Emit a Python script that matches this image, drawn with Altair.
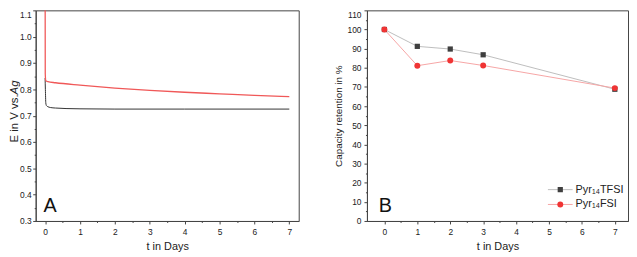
import altair as alt
import pandas as pd

# ---------------- data ----------------
series = ["Pyr\u2081\u2084TFSI", "Pyr\u2081\u2084FSI"]

# Panel A: potential vs time (days)
tA_tfsi = [0, 0.008, 0.02, 0.04, 0.08, 0.15, 0.3, 0.6, 1, 2, 4, 7]
EA_tfsi = [0.843, 0.80, 0.748, 0.738, 0.734, 0.731, 0.729, 0.727, 0.726, 0.725, 0.725, 0.725]
tA_fsi = [0, 0.004, 0.02, 0.08, 0.3, 1, 2, 3, 4, 5, 6, 7]
EA_fsi = [1.30, 0.86, 0.833, 0.829, 0.825, 0.816, 0.805, 0.796, 0.789, 0.783, 0.777, 0.772]

# Panel B: capacity retention
days_B = [0, 1, 2, 3, 7]
cap_tfsi = [100, 91.2, 89.8, 86.8, 68.8]
cap_fsi = [100, 81.1, 83.8, 81.2, 69.4]

# ticks
x_ticks = [i * 0.5 for i in range(15)]
yA_ticks = [round(0.3 + 0.05 * i, 2) for i in range(17)]
yB_ticks = [5 * i for i in range(23)]

panel_labels = ["A", "B"]
yA_title = ["E in V vs.\u00a0", "Ag"]
x_title = "t in Days"
yB_title = "Capacity retention in %"

FONT = "Liberation Sans"
WA, WB, H = 266, 264, 213


def x_axis():
    return alt.Axis(
        values=x_ticks, title=x_title,
        labelExpr="datum.value % 1 === 0 ? format(datum.value, 'd') : ''",
        tickSize={"condition": {"test": "datum.value % 1 === 0", "value": 3}, "value": 1.5},
        labelPadding=4, titlePadding=4, labelOverlap=False, labelFlush=False,
    )


# ---------------- panel A ----------------
dfA1 = pd.DataFrame({"t": tA_tfsi, "E": EA_tfsi})
dfA2 = pd.DataFrame({"t": tA_fsi, "E": EA_fsi})

xA = alt.X("t:Q", scale=alt.Scale(domain=[-0.27, 7.27], nice=False, zero=False), axis=x_axis())
yA = alt.Y("E:Q", scale=alt.Scale(domain=[0.3, 1.1], nice=False, zero=False),
           axis=alt.Axis(
               values=yA_ticks, title=None,
               labelExpr="abs(datum.value*10 - round(datum.value*10)) < 0.001 ? format(datum.value, '.1f') : ''",
               tickSize={"condition": {"test": "abs(datum.value*10 - round(datum.value*10)) < 0.001", "value": 3}, "value": 1.5},
               labelBaseline={"condition": {"test": "datum.value > 1.09", "value": "top"}, "value": "middle"},
               labelPadding=1.5, labelOverlap=False, labelFlush=False,
           ))

lineA1 = alt.Chart(dfA1).mark_line(clip=True, color="#333333", strokeWidth=1.0,
                                   interpolate="monotone").encode(x=xA, y=yA)
lineA2 = alt.Chart(dfA2).mark_line(clip=True, color="#f05858", strokeWidth=1.3,
                                   interpolate="monotone").encode(x=xA, y=yA)

labA = alt.Chart(pd.DataFrame({"lab": [panel_labels[0]]})).mark_text(
    align="left", baseline="alphabetic", fontSize=20, font=FONT, color="#111"
).encode(x=alt.value(8), y=alt.value(204), text="lab:N")

titA1 = alt.Chart(pd.DataFrame({"s": [yA_title[0]]})).mark_text(
    angle=270, align="right", baseline="alphabetic", fontSize=11.5, font=FONT, color="#222"
).encode(x=alt.value(-18), y=alt.value(85), text="s:N")
titA2 = alt.Chart(pd.DataFrame({"s": [yA_title[1]]})).mark_text(
    angle=270, align="left", baseline="alphabetic", fontSize=11.5, font=FONT, color="#222",
    fontStyle="italic"
).encode(x=alt.value(-18), y=alt.value(85), text="s:N")

panelA = alt.layer(lineA1, lineA2, labA, titA1, titA2).properties(width=WA, height=H)

# ---------------- panel B ----------------
dfB1 = pd.DataFrame({"d": days_B, "c": cap_tfsi})
dfB2 = pd.DataFrame({"d": days_B, "c": cap_fsi})

xB = alt.X("d:Q", scale=alt.Scale(domain=[-0.53, 7.4], nice=False, zero=False), axis=x_axis())
yB = alt.Y("c:Q", scale=alt.Scale(domain=[0, 110], nice=False, zero=False),
           axis=alt.Axis(
               values=yB_ticks, title=yB_title, titleFontSize=10, titlePadding=4,
               labelExpr="datum.value % 10 === 0 ? format(datum.value, 'd') : ''",
               tickSize={"condition": {"test": "datum.value % 10 === 0", "value": 3}, "value": 1.5},
               labelBaseline={"condition": {"test": "datum.value > 109", "value": "top"}, "value": "middle"},
               labelPadding=3, labelOverlap=False, labelFlush=False,
           ))

lineB1 = alt.Chart(dfB1).mark_line(color="#bdbdbd", strokeWidth=1).encode(x=xB, y=yB)
lineB2 = alt.Chart(dfB2).mark_line(color="#f6a5a5", strokeWidth=1).encode(x=xB, y=yB)
ptsB1 = alt.Chart(dfB1).mark_point(shape="square", filled=True, size=28, opacity=1,
                                   color="#3f3f3f").encode(x=xB, y=yB)
ptsB2 = alt.Chart(dfB2).mark_point(shape="circle", filled=True, size=36, opacity=1,
                                   color="#f03434").encode(x=xB, y=yB)

labB = alt.Chart(pd.DataFrame({"lab": [panel_labels[1]]})).mark_text(
    align="left", baseline="alphabetic", fontSize=20, font=FONT, color="#111"
).encode(x=alt.value(12), y=alt.value(204), text="lab:N")

legend_layers = []
leg_style = [("#bdbdbd", "square", 28, "#3f3f3f", 181.3), ("#f6a5a5", "circle", 36, "#f03434", 196.3)]
for name, (lc, shp, sz, pc, yy) in zip(series, leg_style):
    ldf = pd.DataFrame({"name": [name]})
    legend_layers.append(alt.Chart(ldf).mark_rule(color=lc, strokeWidth=1).encode(
        x=alt.value(183), x2=alt.value(208), y=alt.value(yy)))
    legend_layers.append(alt.Chart(ldf).mark_point(shape=shp, filled=True, size=sz, opacity=1,
                                                   color=pc).encode(x=alt.value(195.5), y=alt.value(yy)))
    legend_layers.append(alt.Chart(ldf).mark_text(align="left", baseline="middle", fontSize=11,
                                                  font=FONT, color="#222").encode(
        x=alt.value(211), y=alt.value(yy), text="name:N"))

panelB = alt.layer(lineB1, lineB2, ptsB1, ptsB2, labB, *legend_layers).properties(width=WB, height=H)

chart = alt.hconcat(panelA, panelB, spacing=33).properties(
    padding=0, background="white"
).configure_view(
    stroke="#444", strokeWidth=1
).configure_axis(
    grid=False, labelFont=FONT, titleFont=FONT, labelFontSize=8.5, titleFontSize=11,
    titleFontWeight="normal", labelColor="#222", titleColor="#222",
    domainColor="#444", tickColor="#444", domainWidth=1, tickWidth=1
).configure_text(font=FONT)

chart.save("out.html", embed_options={"renderer": "svg", "actions": False})
